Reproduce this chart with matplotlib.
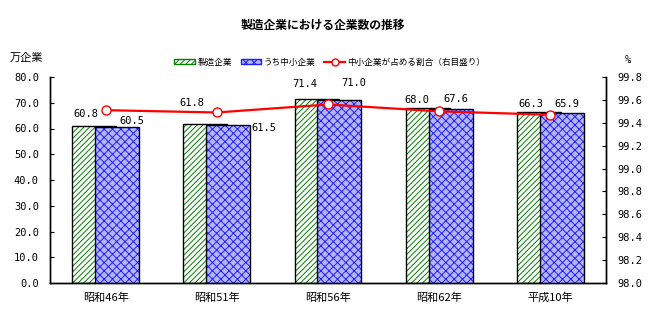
import numpy as np
import matplotlib
matplotlib.use("Agg")
import matplotlib.pyplot as plt
from matplotlib.patches import Patch
from matplotlib.lines import Line2D

plt.rcParams['font.family'] = ['Noto Sans CJK JP', 'DejaVu Sans']
plt.rcParams['hatch.linewidth'] = 0.7

# データ
years = ["昭和46年", "昭和51年", "昭和56年", "昭和62年", "平成10年"]
seizo = [60.8, 61.8, 71.4, 68.0, 66.3]        # 製造企業（万企業）
chusho = [60.5, 61.5, 71.0, 67.6, 65.9]       # うち中小企業（万企業）
wariai = [99.51, 99.49, 99.56, 99.50, 99.47]  # 中小企業が占める割合（%）

# ラベル位置の微調整 (x, y) : x はカテゴリ単位, y は万企業
off_seizo = [(-0.18, 5.0), (-0.22, 8.0), (-0.21, 6.0), (-0.2, 3.0), (-0.18, 3.2)]
off_chusho = [(0.24, 2.5), (0.42, -1.2), (0.23, 6.5), (0.15, 3.8), (0.15, 3.6)]

mono = 'DejaVu Sans Mono'

fig = plt.figure(figsize=(6.49, 3.25), dpi=100)
ax = fig.add_axes([50 / 649, 1 - 283 / 325, 556 / 649, 206 / 325])
ax2 = ax.twinx()

x = np.arange(len(years)) + 0.5
w = 0.395
sh = 0.2

# 製造企業（後ろ側）
ax.bar(x - sh + w / 2 - 0.1, seizo, width=w, color='white', edgecolor='#008000',
       hatch='//////', linewidth=0, zorder=2)
ax.bar(x - sh + w / 2 - 0.1, seizo, width=w, color='none', edgecolor='black',
       linewidth=1.0, zorder=2.1)
# うち中小企業（前側）
ax.bar(x + sh - w / 2 + 0.1, chusho, width=w, color='#b4b4ff', edgecolor='#2020ff',
       hatch='xxxx', linewidth=0, zorder=3)
ax.bar(x + sh - w / 2 + 0.1, chusho, width=w, color='none', edgecolor='black',
       linewidth=1.0, zorder=3.1)

for i in range(len(years)):
    ax.text(x[i] + off_seizo[i][0], seizo[i] + off_seizo[i][1], f"{seizo[i]:.1f}",
            ha='center', va='center', fontsize=7.5, family=mono)
    ax.text(x[i] + off_chusho[i][0], chusho[i] + off_chusho[i][1], f"{chusho[i]:.1f}",
            ha='center', va='center', fontsize=7.5, family=mono)

ax2.plot(x, wariai, color='#ff0000', lw=1.6, marker='o', ms=6.5,
         markerfacecolor='white', markeredgecolor='#ff0000', markeredgewidth=1.0,
         zorder=5)

ax.set_xlim(0, 5)
ax.set_ylim(0, 80)
ax.set_yticks(np.arange(0, 81, 10))
ax.set_yticklabels([f"{v:.1f}" for v in np.arange(0, 81, 10)], family=mono, fontsize=7.5)
ax.set_xticks(x)
ax.set_xticklabels(years, fontsize=8)
ax.tick_params(axis='x', length=0, pad=7)
ax.tick_params(axis='y', direction='in', length=3, pad=8)

ax2.set_ylim(98.0, 99.8)
ticks2 = np.round(np.arange(98.0, 99.81, 0.2), 1)
ax2.set_yticks(ticks2)
ax2.set_yticklabels([f"{v:.1f}" for v in ticks2], family=mono, fontsize=7.5)
ax2.tick_params(axis='y', direction='in', length=3, pad=8)

for a in (ax, ax2):
    a.spines['top'].set_visible(False)
    for s in ('left', 'right', 'bottom'):
        a.spines[s].set_linewidth(1.0)
ax.set_zorder(ax2.get_zorder() - 1)
ax2.patch.set_visible(False)
ax.patch.set_visible(False)

fig.text(323 / 649, 1 - 25 / 325, "製造企業における企業数の推移", ha='center', va='center',
         fontsize=8.5, fontweight='bold')
fig.text(10 / 649, 1 - 58 / 325, "万企業", ha='left', va='center', fontsize=8)
fig.text(628 / 649, 1 - 60 / 325, "%", ha='center', va='center', fontsize=7.5, family=mono)

handles = [
    Patch(facecolor='white', edgecolor='#008000', hatch='//////', label='製造企業'),
    Patch(facecolor='#b4b4ff', edgecolor='#2020ff', hatch='xxxx', label='うち中小企業'),
    Line2D([], [], color='#ff0000', lw=1.6, marker='o', ms=5, markerfacecolor='white',
           label='中小企業が占める割合（右目盛り）'),
]
fig.legend(handles=handles, loc='center', bbox_to_anchor=(330 / 649, 1 - 62 / 325),
           ncol=3, frameon=False, fontsize=6.2, handlelength=2.4, handleheight=0.6,
           columnspacing=1.0, handletextpad=0.3)

fig.savefig('out.png', dpi=100)
